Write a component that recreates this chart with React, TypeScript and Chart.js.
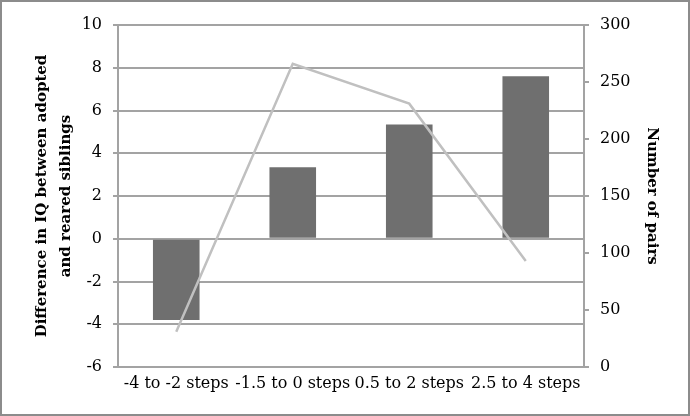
import React, { useEffect, useRef } from "react";
import { Chart, registerables } from "chart.js";

Chart.register(...registerables);

const categories: string[] = ["-4 to -2 steps", "-1.5 to 0 steps", "0.5 to 2 steps", "2.5 to 4 steps"];
const iqDifference: number[] = [-3.8, 3.35, 5.35, 7.6];
const numberOfPairs: number[] = [31, 266, 231, 93];
const leftTitle: string[] = ["Difference in IQ between adopted", "and reared siblings"];
const rightTitle: string = "Number of pairs";

const FONT = "'DejaVu Serif', 'Liberation Serif', serif";
const GRID = "#a3a3a3";

export default function App() {
  const ref = useRef<HTMLCanvasElement | null>(null);

  useEffect(() => {
    if (!ref.current) return;
    const chart = new Chart(ref.current, {
      type: "bar",
      data: {
        labels: categories,
        datasets: [
          {
            type: "line",
            label: "Number of pairs",
            data: numberOfPairs,
            yAxisID: "y1",
            borderColor: "#c0c0c0",
            borderWidth: 2.5,
            pointRadius: 0,
            tension: 0,
            fill: false,
            order: 0,
          },
          {
            type: "bar",
            label: "Difference in IQ",
            data: iqDifference,
            yAxisID: "y",
            backgroundColor: "#6f6f6f",
            barPercentage: 0.4,
            categoryPercentage: 1,
            order: 1,
          },
        ],
      },
      options: {
        responsive: false,
        animation: false,
        layout: { padding: { top: 23, left: 0, right: 0, bottom: 0 } },
        plugins: { legend: { display: false }, tooltip: { enabled: false } },
        scales: {
          x: {
            grid: { display: false, drawTicks: false },
            border: { display: true, color: GRID, width: 2 },
            ticks: {
              color: "#000",
              font: { family: FONT, size: 16 },
              maxRotation: 0,
              minRotation: 0,
              autoSkip: false,
              padding: 7,
            },
            afterFit: (s: any) => {
              s.height = 47;
            },
          },
          y: {
            position: "left",
            min: -6,
            max: 10,
            ticks: {
              stepSize: 2,
              color: "#000",
              font: { family: FONT, size: 16 },
              padding: 11,
            },
            grid: { color: GRID, lineWidth: 2, tickLength: 5 },
            border: { display: true, color: GRID, width: 2 },
            title: {
              display: true,
              text: leftTitle,
              color: "#000",
              font: { family: FONT, size: 15, weight: "bold", lineHeight: 1.6 },
              padding: { top: 28, bottom: 0 },
            },
            afterFit: (s: any) => {
              s.width = 116;
            },
          },
          y1: {
            position: "right",
            min: 0,
            max: 300,
            ticks: {
              stepSize: 50,
              color: "#000",
              font: { family: FONT, size: 16 },
              padding: 11,
            },
            grid: { drawOnChartArea: false, color: GRID, lineWidth: 2, tickLength: 5 },
            border: { display: true, color: GRID, width: 2 },
            title: {
              display: true,
              text: rightTitle,
              color: "#000",
              font: { family: FONT, size: 15, weight: "bold", lineHeight: 1.6 },
              padding: { top: 24, bottom: 0 },
            },
            afterFit: (s: any) => {
              s.width = 104;
            },
          },
        },
      },
    });
    return () => chart.destroy();
  }, []);

  return (
    <div
      style={{
        position: "absolute",
        left: 0,
        top: 0,
        width: 690,
        height: 416,
        boxSizing: "border-box",
        border: "2px solid #8c8c8c",
        background: "#fff",
      }}
    >
      <canvas ref={ref} width={686} height={412} style={{ display: "block" }} />
    </div>
  );
}
